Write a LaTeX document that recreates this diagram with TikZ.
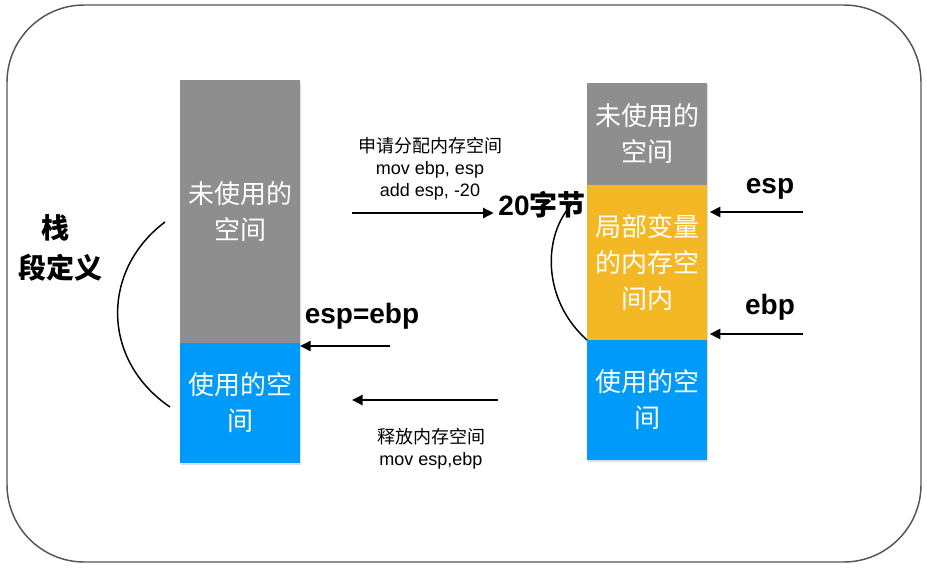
\documentclass[tikz,border=0pt]{standalone}
\usepackage{fontspec}
\setmainfont{Liberation Sans}
\newfontfamily\cjk{Noto Sans CJK SC}
\usetikzlibrary{arrows.meta, positioning, shadows}
\definecolor{UnusedGray}{RGB}{142,142,142}
\definecolor{UsedBlue}{RGB}{0,155,250}
\definecolor{LocalOrange}{RGB}{244,184,36}
\definecolor{FrameGray}{RGB}{85,85,85}

\begin{document}
\begin{tikzpicture}[x=0.75pt, y=-0.75pt,
  seg/.style={drop shadow={shadow xshift=1pt, shadow yshift=-1.5pt, opacity=0.25}, minimum width=90pt, inner sep=0pt, outer sep=0pt, align=center, text=white, font=\cjk\fontsize{19.5}{27}\selectfont},
  ptr/.style={line width=1.8pt, -{Triangle[length=8pt,width=7.5pt]}},
  note/.style={align=center, font=\fontsize{13.5}{16.5}\selectfont},
  reg/.style={font=\bfseries\fontsize{21}{24}\selectfont}]
\useasboundingbox (0,0) rectangle (927,568);
\draw[FrameGray, line width=1.1pt, rounded corners=58pt] (7,5) rectangle (921,562);

% stack before allocation
\node[seg, fill=UnusedGray, minimum height=197.25pt, anchor=north] (LU) at (240,80) {未使用的\\空间};
\node[seg, fill=UsedBlue, minimum height=90pt, below=0pt of LU] (LS) {使用的空\\间};

% stack after allocation
\node[seg, fill=UnusedGray, minimum height=76.5pt, anchor=north] (RU) at (647,83) {未使用的\\空间};
\node[seg, fill=LocalOrange, minimum height=116.25pt, below=0pt of RU] (RL) {局部变量\\的内存空\\间内};
\node[seg, fill=UsedBlue, minimum height=90pt, below=0pt of RL] (RS) {使用的空\\间};

% labels
\node[font=\cjk\bfseries\fontsize{21}{24}\selectfont] (stk) at (55,228) {栈};
\node[font=\cjk\bfseries\fontsize{21}{24}\selectfont] (def) at (60,268) {段定义};
\node[note] (alloc) at (430,169) {{\cjk 申请分配内存空间}\\mov ebp, esp\\add esp, -20};
\node[note] (free) at (431,449) {{\cjk 释放内存空间}\\mov esp,ebp};
\node[font=\bfseries\fontsize{21}{22}\selectfont] (bytes) at (542,205) {20{\cjk 字节}};
\node[reg] (same) at (362,316) {esp=ebp};
\node[reg] (esp) at (770,189) {esp};
\node[reg] (ebp) at (770,307) {ebp};

% arrows
\coordinate (ga) at (352,213);
\coordinate (sp) at (390,346);
\coordinate (ra) at (498,400);
\coordinate (rb) at (352,400);
\coordinate (pe) at (803,212);
\coordinate (pb) at (803,334);
\draw[ptr] (ga) -- (ga -| bytes.west);
\draw[ptr] (sp) -- (sp -| LS.east);
\draw[ptr] (ra) -- (rb);
\draw[ptr, shorten >=2pt] (pe) -- (pe -| RL.east);
\draw[ptr, shorten >=2pt] (pb) -- (pb -| RS.east);

% brackets
\coordinate (la) at (165,222);
\coordinate (lb) at (170,407);
\coordinate (rt) at (573,203);
\draw[line width=1.1pt] (la) .. controls (101,270) and (101,360) .. (lb);
\draw[line width=1.1pt] (rt) .. controls (542,235) and (542,300) .. (RL.south west);
\end{tikzpicture}
\end{document}
